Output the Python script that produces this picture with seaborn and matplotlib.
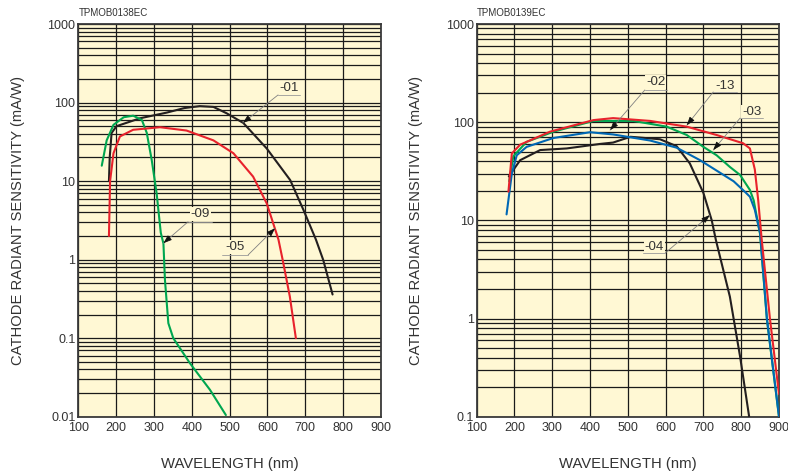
import matplotlib
matplotlib.use("Agg")
import matplotlib.pyplot as plt
import seaborn as sns
import pandas as pd
import numpy as np

# ---------------- data ----------------
# Left chart (TPMOB0138EC)
wl_01 = [181, 183, 188, 201, 263, 334, 380, 421, 457, 492, 536, 598, 660, 695, 728, 747, 772]
s_01 = [10, 20, 41, 50, 63, 74.5, 85, 90, 88, 73, 55, 26, 10.3, 4.3, 1.8, 1.0, 0.36]

wl_09 = [162, 175, 193, 220, 245, 268, 281, 294, 307, 318, 325, 329, 338, 351, 395, 448, 490]
s_09 = [15.7, 33, 52, 65, 68, 60, 41, 18.6, 7, 2.2, 1.6, 0.55, 0.155, 0.1, 0.048, 0.022, 0.0105]

wl_05 = [181, 184, 193, 210, 245, 316, 386, 457, 510, 562, 598, 629, 640, 659, 675]
s_05 = [2.0, 10, 22.6, 37, 45, 48.5, 44, 33, 22.6, 11.4, 5.2, 1.8, 1.0, 0.34, 0.1]

# Right chart (TPMOB0139EC)
wl_13 = [184, 193, 215, 294, 409, 461, 559, 656, 735, 805, 823, 836, 845, 854, 876, 900]
s_13 = [19.6, 48, 59, 80, 105, 110, 103, 90, 74, 61, 54, 33, 16, 6.5, 1.0, 0.17]

wl_03 = [186, 197, 232, 303, 409, 514, 603, 656, 700, 735, 770, 797, 823, 833, 850, 868, 900]
s_03 = [25, 45, 63, 80, 103, 103, 90, 74, 56, 46, 35, 29, 20.4, 16, 7.2, 0.98, 0.1]

wl_02 = [179, 193, 206, 232, 303, 400, 461, 559, 629, 691, 780, 810, 823, 836, 850, 868, 900]
s_02 = [11.5, 30, 46, 56, 69, 79, 75, 65, 55, 41, 25, 19.5, 17.4, 12.8, 7.4, 1.0, 0.1]

wl_04 = [185, 215, 268, 338, 426, 461, 507, 585, 629, 664, 700, 722, 733, 770, 797, 821]
s_04 = [28, 41, 52, 54, 60, 62, 71, 67, 57, 38, 19, 10, 6.3, 1.67, 0.41, 0.1]

x_ticks = [100, 200, 300, 400, 500, 600, 700, 800, 900]
y_ticks_left = [0.01, 0.1, 1, 10, 100, 1000]
y_labels_left = ["0.01", "0.1", "1", "10", "100", "1000"]
y_ticks_right = [0.1, 1, 10, 100, 1000]
y_labels_right = ["0.1", "1", "10", "100", "1000"]

codes = ["TPMOB0138EC", "TPMOB0139EC"]
x_label = "WAVELENGTH (nm)"
y_label = "CATHODE RADIANT SENSITIVITY (mA/W)"

# ---------------- styling ----------------
BG = "#FFF8D4"
C_BLACK = "#231F20"
C_RED = "#E8222C"
C_GREEN = "#00A650"
C_BLUE = "#0068B5"
TXT = "#333333"

sns.set_style("white")
plt.rcParams["font.family"] = ["Liberation Sans", "DejaVu Sans"]

fig = plt.figure(figsize=(7.88, 4.75), dpi=100)
axL = fig.add_axes([78.3 / 788, 1 - 416.7 / 475, 302.7 / 788, 392.7 / 475])
axR = fig.add_axes([476.7 / 788, 1 - 416.7 / 475, 302.3 / 788, 392.7 / 475])


def mk(wl, s, name):
    return pd.DataFrame({"wl": wl, "s": s, "series": name})


dfL = pd.concat([mk(wl_01, s_01, "-01"), mk(wl_09, s_09, "-09"), mk(wl_05, s_05, "-05")])
dfR = pd.concat([mk(wl_04, s_04, "-04"), mk(wl_03, s_03, "-03"),
                 mk(wl_02, s_02, "-02"), mk(wl_13, s_13, "-13")])

palL = {"-01": C_BLACK, "-09": C_GREEN, "-05": C_RED}
palR = {"-04": C_BLACK, "-03": C_GREEN, "-02": C_BLUE, "-13": C_RED}

for ax, df, pal, ylim, yt, ytl, code in [
    (axL, dfL, palL, (0.01, 1000), y_ticks_left, y_labels_left, codes[0]),
    (axR, dfR, palR, (0.1, 1000), y_ticks_right, y_labels_right, codes[1]),
]:
    ax.set_facecolor(BG)
    sns.lineplot(data=df, x="wl", y="s", hue="series", palette=pal, sort=False,
                 estimator=None, legend=False, lw=1.5, ax=ax, zorder=3)
    ax.set_yscale("log")
    ax.set_xlim(100, 900)
    ax.set_ylim(*ylim)
    ax.set_xticks(x_ticks)
    ax.set_xticklabels([str(t) for t in x_ticks])
    ax.set_yticks(yt)
    ax.set_yticklabels(ytl)
    ax.yaxis.set_minor_locator(matplotlib.ticker.LogLocator(base=10, subs=np.arange(2, 10), numticks=20))
    ax.yaxis.set_minor_formatter(matplotlib.ticker.NullFormatter())
    ax.grid(which="major", axis="both", color="#1a1a1a", lw=0.9, zorder=1)
    ax.grid(which="minor", axis="y", color="#1a1a1a", lw=0.9, zorder=1)
    ax.set_axisbelow(True)
    ax.tick_params(which="both", length=0, labelsize=9, colors=TXT)
    ax.tick_params(axis="y", pad=2)
    ax.tick_params(axis="x", pad=4)
    for sp in ax.spines.values():
        sp.set_color("#3a3a3a")
        sp.set_linewidth(1.3)
        sp.set_visible(True)
    ax.set_xlabel(x_label, fontsize=10.7, color=TXT)
    ax.set_ylabel(y_label, fontsize=10.6, color=TXT)
    ax.xaxis.set_label_coords(0.5, -0.103)
    ax.yaxis.label.set_va("center")
    ax.yaxis.set_label_coords(-0.2, 0.5)
    ax.text(0.0, 1.016, code, transform=ax.transAxes, fontsize=7, color=TXT,
            ha="left", va="bottom")


def label(ax, text, txy, ul0, ul1, tip):
    # text label with underline and leader arrow
    ax.text(txy[0], txy[1], text, fontsize=9.6, color=TXT, ha="center", va="center", zorder=5,
            bbox=dict(facecolor=BG, edgecolor="none", pad=0.6))
    ax.plot([ul0[0], ul1[0]], [ul0[1], ul1[1]], color="#9a9a9a", lw=0.6, zorder=5)
    ax.annotate("", xy=tip, xytext=ul0,
                arrowprops=dict(arrowstyle="-", color="#808080", lw=0.6,
                                shrinkA=0, shrinkB=0), zorder=5)
    # black arrow head
    lx0, ly0 = np.log10(ul0[1]), np.log10(tip[1])
    f = 0.18
    start = (tip[0] + (ul0[0] - tip[0]) * f, 10 ** (ly0 + (lx0 - ly0) * f))
    ax.annotate("", xy=tip, xytext=start,
                arrowprops=dict(arrowstyle="-|>,head_length=0.5,head_width=0.18",
                                color="#111111", lw=0.6, shrinkA=0, shrinkB=0), zorder=6)


label(axL, "-01", (657, 153), (628, 125), (686, 125), (535, 55))
label(axL, "-09", (422, 3.83), (390, 3.03), (453, 3.03), (325, 1.62))
label(axL, "-05", (514, 1.46), (549, 1.15), (480, 1.15), (620, 2.51))

label(axR, "-02", (574, 256), (545, 213), (603, 213), (453, 83))
label(axR, "-13", (757, 234), (726, 203), (789, 203), (656, 93))
label(axR, "-03", (828, 127), (797, 110), (858, 110), (726, 52))
label(axR, "-04", (570, 5.36), (599, 4.65), (540, 4.65), (717, 11.3))

fig.savefig("out.png", dpi=100)
